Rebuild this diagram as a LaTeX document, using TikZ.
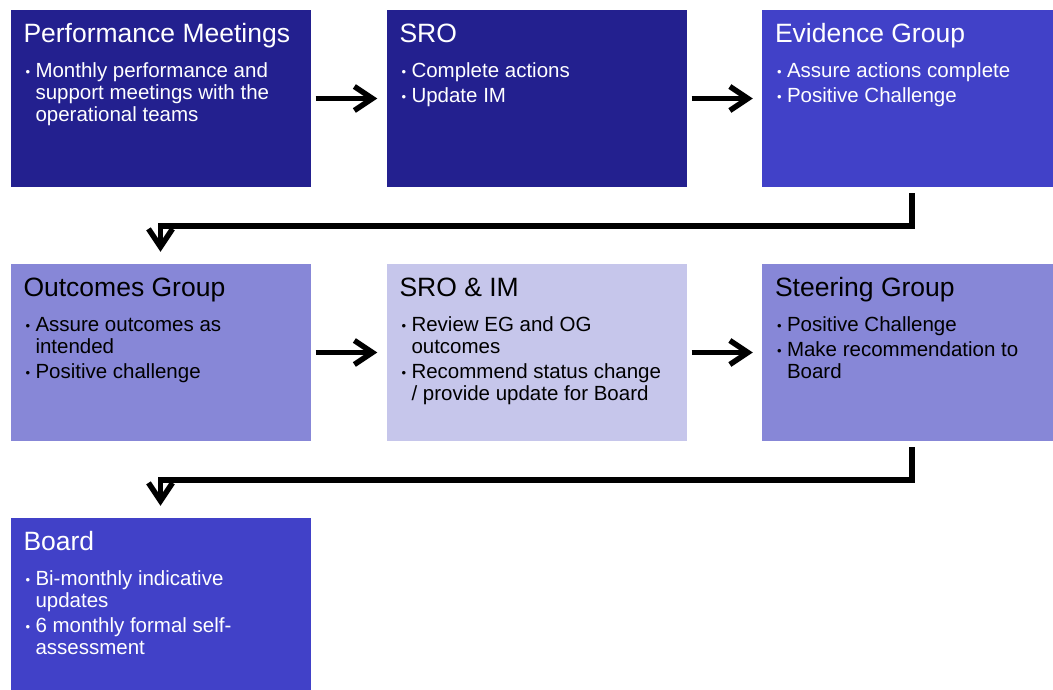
\documentclass[tikz,border=0pt]{standalone}
\usepackage{fontspec}
\setmainfont{Liberation Sans}
\usetikzlibrary{arrows.meta}
\definecolor{cdark}{HTML}{23208F}
\definecolor{cblue}{HTML}{4141C8}
\definecolor{cmid}{HTML}{8787D7}
\definecolor{clight}{HTML}{C6C6EB}
\newcommand{\bitem}[1]{\par\hangindent=12pt\hangafter=1\noindent\makebox[12pt][l]{\hspace{2pt}\raisebox{1pt}{\fontsize{13}{13}\selectfont •}}#1}
\newcommand{\bodytext}[1]{\parbox[t]{290pt}{\fontsize{20.5}{22}\selectfont\raggedright\setlength{\parskip}{3pt}#1}}
\tikzset{
  box/.style={rectangle, inner sep=0pt, minimum width=300pt, minimum height=177pt},
  ttl/.style={anchor=base west, inner sep=0pt, font=\fontsize{26.5}{30}\selectfont},
  body/.style={anchor=base west, inner sep=0pt},
  conn/.style={line width=5.5pt, draw=black, -{Straight Barb[length=18pt,width=24pt]}}
}
\begin{document}
\begin{tikzpicture}[x=1pt,y=-1pt]
\useasboundingbox (0,0) rectangle (1053,689);
\begin{scope}
\clip (0,0) rectangle (1053,689);
% row 1
\node[box, fill=cdark] (pm) at (160.5,98.5) {};
\node[box, fill=cdark] (sro) at (536.5,98.5) {};
\node[box, fill=cblue] (eg) at (912,98.5) {};
% row 2
\node[box, fill=cmid] (og) at (160.5,352.5) {};
\node[box, fill=clight] (si) at (536.5,352.5) {};
\node[box, fill=cmid] (sg) at (912,352.5) {};
% row 3
\node[box, fill=cblue] (bd) at (160.5,606.5) {};

% texts
\node[ttl, text=white] (pmt) at ([xshift=13pt,yshift=-33pt]pm.north west) {Performance Meetings};
\node[body, text=white] (pmb) at ([xshift=13pt,yshift=-68pt]pm.north west)
  {\bodytext{\bitem{Monthly performance and\newline support meetings with the\newline operational teams}}};

\node[ttl, text=white] (srot) at ([xshift=13pt,yshift=-33pt]sro.north west) {SRO};
\node[body, text=white] (srob) at ([xshift=13pt,yshift=-68pt]sro.north west)
  {\bodytext{\bitem{Complete actions}\bitem{Update IM}}};

\node[ttl, text=white] (egt) at ([xshift=13pt,yshift=-33pt]eg.north west) {Evidence Group};
\node[body, text=white] (egb) at ([xshift=13pt,yshift=-68pt]eg.north west)
  {\bodytext{\bitem{Assure actions complete}\bitem{Positive Challenge}}};

\node[ttl, text=black] (ogt) at ([xshift=13pt,yshift=-33pt]og.north west) {Outcomes Group};
\node[body, text=black] (ogb) at ([xshift=13pt,yshift=-68pt]og.north west)
  {\bodytext{\bitem{Assure outcomes as\newline intended}\bitem{Positive challenge}}};

\node[ttl, text=black] (sit) at ([xshift=13pt,yshift=-33pt]si.north west) {SRO \& IM};
\node[body, text=black] (sib) at ([xshift=13pt,yshift=-68pt]si.north west)
  {\bodytext{\bitem{Review EG and OG\newline outcomes}\bitem{Recommend status change\newline / provide update for Board}}};

\node[ttl, text=black] (sgt) at ([xshift=13pt,yshift=-33pt]sg.north west) {Steering Group};
\node[body, text=black] (sgb) at ([xshift=13pt,yshift=-68pt]sg.north west)
  {\bodytext{\bitem{Positive Challenge}\bitem{Make recommendation to\newline Board}}};

\node[ttl, text=white] (bdt) at ([xshift=13pt,yshift=-33pt]bd.north west) {Board};
\node[body, text=white] (bdb) at ([xshift=13pt,yshift=-68pt]bd.north west)
  {\bodytext{\bitem{Bi-monthly indicative\newline updates}\bitem{6 monthly formal self-\newline assessment}}};

% connectors
\draw[conn] ([xshift=5pt]pm.east) -- ([xshift=-9pt]sro.west);
\draw[conn] ([xshift=5pt]sro.east) -- ([xshift=-9pt]eg.west);
\draw[conn] ([yshift=-6pt]eg.south) -- ++(0,33) -| ([yshift=12pt]og.north);
\draw[conn] ([xshift=5pt]og.east) -- ([xshift=-9pt]si.west);
\draw[conn] ([xshift=5pt]si.east) -- ([xshift=-9pt]sg.west);
\draw[conn] ([yshift=-6pt]sg.south) -- ++(0,33) -| ([yshift=12pt]bd.north);
\end{scope}
\end{tikzpicture}
\end{document}
